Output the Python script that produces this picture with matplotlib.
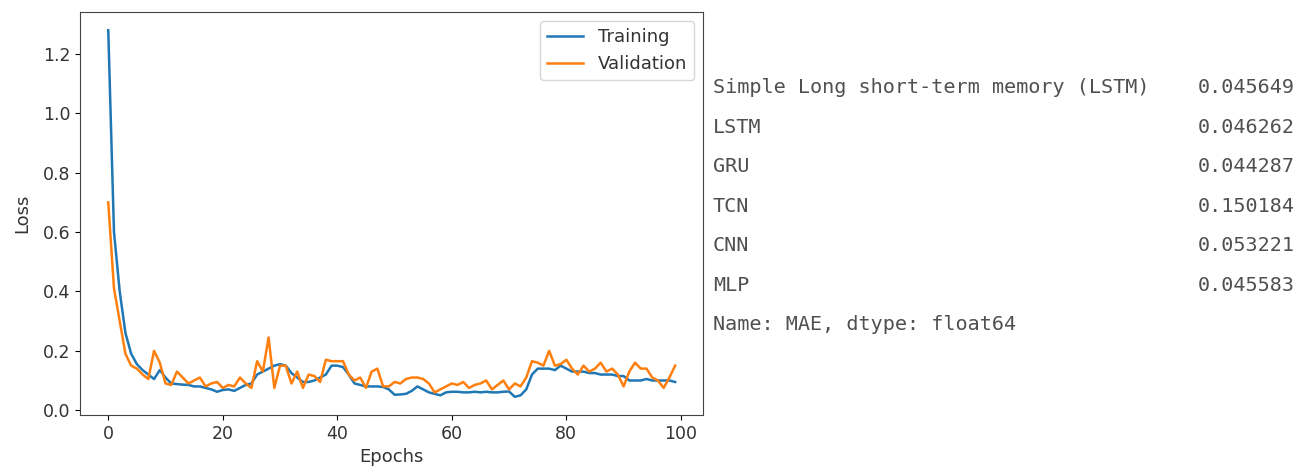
import matplotlib
matplotlib.use("Agg")
import matplotlib.pyplot as plt

# loss history
epochs = list(range(100))
training_loss = [
    1.28, 0.60, 0.40, 0.26, 0.19, 0.155, 0.135, 0.12, 0.105, 0.135,
    0.11, 0.09, 0.088, 0.086, 0.085, 0.08, 0.08, 0.075, 0.07, 0.062,
    0.068, 0.07, 0.065, 0.075, 0.085, 0.09, 0.12, 0.13, 0.14, 0.15,
    0.155, 0.15, 0.125, 0.11, 0.095, 0.095, 0.10, 0.11, 0.12, 0.15,
    0.15, 0.145, 0.12, 0.09, 0.085, 0.08, 0.08, 0.08, 0.078, 0.07,
    0.052, 0.053, 0.055, 0.065, 0.08, 0.07, 0.06, 0.055, 0.05, 0.06,
    0.062, 0.062, 0.06, 0.06, 0.062, 0.06, 0.062, 0.06, 0.06, 0.062,
    0.063, 0.045, 0.05, 0.07, 0.12, 0.14, 0.14, 0.14, 0.135, 0.15,
    0.14, 0.13, 0.13, 0.13, 0.125, 0.125, 0.12, 0.12, 0.12, 0.115,
    0.115, 0.10, 0.10, 0.10, 0.105, 0.10, 0.10, 0.10, 0.10, 0.095,
]
validation_loss = [
    0.70, 0.41, 0.30, 0.19, 0.15, 0.14, 0.12, 0.105, 0.20, 0.16,
    0.09, 0.085, 0.13, 0.11, 0.09, 0.10, 0.11, 0.08, 0.09, 0.095,
    0.075, 0.085, 0.08, 0.11, 0.09, 0.075, 0.165, 0.13, 0.245, 0.075,
    0.15, 0.15, 0.09, 0.13, 0.075, 0.12, 0.115, 0.095, 0.17, 0.165,
    0.165, 0.165, 0.12, 0.10, 0.11, 0.075, 0.13, 0.14, 0.08, 0.08,
    0.095, 0.09, 0.105, 0.11, 0.11, 0.105, 0.09, 0.06, 0.07, 0.08,
    0.09, 0.085, 0.095, 0.075, 0.085, 0.09, 0.10, 0.07, 0.085, 0.10,
    0.07, 0.09, 0.08, 0.11, 0.165, 0.16, 0.15, 0.20, 0.15, 0.155,
    0.17, 0.14, 0.12, 0.15, 0.13, 0.14, 0.16, 0.13, 0.14, 0.12,
    0.08, 0.13, 0.16, 0.14, 0.14, 0.11, 0.10, 0.075, 0.11, 0.15,
]

# printed pandas Series next to the plot
model_names = ["Simple Long short-term memory (LSTM)", "LSTM", "GRU", "TCN", "CNN", "MLP"]
mae_values = [0.045649, 0.046262, 0.044287, 0.150184, 0.053221, 0.045583]
series_footer = "Name: MAE, dtype: float64"

fig = plt.figure(figsize=(13.1, 4.75), dpi=100)
ax = fig.add_axes([0.061, 0.126, 0.476, 0.849])

ax.plot(epochs, training_loss, label="Training", linewidth=1.8)
ax.plot(epochs, validation_loss, label="Validation", linewidth=1.8)
ax.set_xlabel("Epochs", fontsize=13, color="#333333")
ax.set_ylabel("Loss", fontsize=13, color="#333333", labelpad=8)
ax.tick_params(labelsize=12.5, labelcolor="#333333")
for spine in ax.spines.values():
    spine.set_color("#444444")
leg = ax.legend(loc="upper right", fontsize=13)
for t in leg.get_texts():
    t.set_color("#333333")

# the text output, monospace like a notebook cell
mono = "DejaVu Sans Mono"
row_y = 0.815
for name, val in zip(model_names, mae_values):
    fig.text(0.544, row_y, name, family=mono, fontsize=14.5, color="#505050", va="center")
    fig.text(0.9885, row_y, f"{val:.6f}", family=mono, fontsize=14.5, color="#505050",
             va="center", ha="right")
    row_y -= 0.0832
fig.text(0.544, row_y, series_footer, family=mono, fontsize=14.5, color="#505050", va="center")

fig.savefig("out.png", dpi=100)
